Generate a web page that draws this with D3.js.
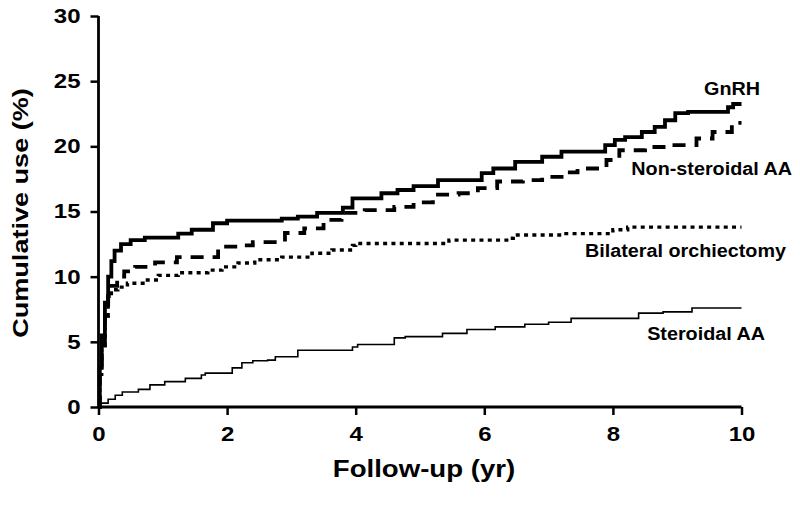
<!DOCTYPE html>
<html>
<head>
<meta charset="utf-8">
<script src="https://cdn.jsdelivr.net/npm/d3@7"></script>
<style>
  html, body { margin: 0; padding: 0; background: #fff; }
  svg { display: block; font-family: "Liberation Sans", Arial, sans-serif; }
</style>
</head>
<body>
<svg id="chart" width="800" height="510"></svg>
<script>
// ---- Data (time in years, cumulative use in %) ----
const xTicks = [0, 2, 4, 6, 8, 10];
const yTicks = [0, 5, 10, 15, 20, 25, 30];
const xLabel = "Follow-up (yr)";
const yLabel = "Cumulative use (%)";

const gnrh = [
  [0,0],[0.02,3],[0.05,5.5],[0.1,8],[0.15,10],[0.2,11.2],[0.25,12],[0.35,12.5],[0.5,12.8],[0.72,13.0],
  [1.24,13.3],[1.45,13.6],[1.78,14.1],[2.0,14.3],[2.85,14.45],[3.1,14.6],[3.4,14.9],[3.8,15.3],
  [3.95,16.0],[4.4,16.4],[4.65,16.65],[4.9,16.95],[5.28,17.4],[5.96,17.95],[6.14,18.3],[6.48,18.8],
  [6.9,19.2],[7.2,19.6],[7.88,20.1],[8.03,20.5],[8.19,20.7],[8.45,21.1],[8.65,21.5],[8.81,22.0],
  [8.97,22.55],[9.17,22.65],[9.79,23.0],[9.87,23.25],[10,23.25]
];
const nonSteroidalAA = [
  [0,0],[0.02,2.5],[0.05,4.5],[0.1,7],[0.15,8.5],[0.2,9.3],[0.29,10.0],[0.4,10.4],[0.57,10.75],
  [0.88,11.1],[1.22,11.5],[1.86,12.3],[2.17,12.4],[2.4,12.65],[2.9,13.35],[3.2,13.7],[3.5,14.35],
  [3.78,14.9],[4.14,15.1],[4.6,15.35],[4.9,15.7],[5.2,16.3],[5.6,16.4],[5.9,16.8],[6.2,17.3],
  [6.6,17.4],[6.9,17.65],[7.25,18.0],[7.45,18.3],[7.9,18.95],[8.1,19.7],[8.5,19.95],[8.85,20.1],
  [9.3,20.6],[9.55,21.1],[9.85,21.8],[10,21.8]
];
const bilateralOrchiectomy = [
  [0,0],[0.02,2.5],[0.05,4.5],[0.1,7],[0.15,8.5],[0.2,9.0],[0.3,9.2],[0.45,9.5],[0.72,9.75],
  [0.93,10.1],[1.24,10.3],[1.7,10.5],[1.92,10.75],[2.17,11.05],[2.43,11.3],[2.85,11.5],[3.32,11.8],
  [3.63,12.05],[3.95,12.4],[4.0,12.55],[5.45,12.8],[6.4,12.95],[6.45,13.2],[7.2,13.3],[8.0,13.6],
  [8.23,13.8],[10,13.8]
];
const steroidalAA = [
  [0,0.3],[0.15,0.6],[0.26,0.9],[0.37,1.15],[0.62,1.35],[0.8,1.7],[1.03,1.95],[1.35,2.2],[1.6,2.45],
  [1.66,2.6],[2.08,3.0],[2.23,3.4],[2.4,3.55],[2.63,3.6],[2.75,3.85],[3.1,4.35],[3.95,4.6],[4.03,4.8],
  [4.6,5.3],[4.77,5.4],[5.35,5.65],[5.73,5.95],[6.17,6.15],[6.63,6.35],[7.0,6.5],[7.35,6.8],
  [8.4,7.2],[8.78,7.3],[9.23,7.6],[10,7.6]
];

const seriesNames = ["GnRH", "Non-steroidal AA", "Bilateral orchiectomy", "Steroidal AA"];

// ---- Layout ----
const svg = d3.select("#chart");
const x = d3.scaleLinear().domain([0, 10]).range([98.5, 741.5]);
const y = d3.scaleLinear().domain([0, 30]).range([407, 16]);
const FONT = "'Liberation Sans', Arial, sans-serif";

// ---- Series ----
const line = d3.line().x(d => x(d[0])).y(d => y(d[1])).curve(d3.curveStepAfter);

const series = [
  {name: seriesNames[0], data: gnrh, width: 3.8, dash: null},
  {name: seriesNames[1], data: nonSteroidalAA, width: 3.8, dash: "13,9"},
  {name: seriesNames[2], data: bilateralOrchiectomy, width: 3.4, dash: "4,4.3"},
  {name: seriesNames[3], data: steroidalAA, width: 1.6, dash: null}
];

svg.append("g").selectAll("path").data(series).join("path")
  .attr("d", d => line(d.data))
  .attr("fill", "none")
  .attr("stroke", "#000")
  .attr("stroke-width", d => d.width)
  .attr("stroke-dasharray", d => d.dash)
  .attr("stroke-linejoin", "miter");

// ---- Axes ----
const xAxis = d3.axisBottom(x).tickValues(xTicks).tickSize(8).tickPadding(12).tickFormat(d3.format("d"));
const yAxis = d3.axisLeft(y).tickValues(yTicks).tickSize(8).tickPadding(7).tickFormat(d3.format("d"));

const gx = svg.append("g").attr("transform", `translate(0,${y(0)})`).call(xAxis);
const gy = svg.append("g").attr("transform", `translate(${x(0)},0)`).call(yAxis);

[gx, gy].forEach(g => {
  g.select(".domain").attr("stroke", "#000").attr("stroke-width", 2.8);
  g.selectAll(".tick line").attr("stroke", "#000").attr("stroke-width", 2.5);
  g.selectAll(".tick text")
    .attr("fill", "#000")
    .style("font-family", FONT)
    .style("font-size", "20px")
    .style("font-weight", "bold")
    .attr("transform", "scale(1.2,1)");
});
gx.select(".domain").attr("d", `M${x(0)},0H${x(10)}`);
gy.select(".domain").attr("d", `M0,${y(30)}V${y(0)}`);

// ---- Axis titles ----
svg.append("text")
  .attr("transform", "translate(424,477) scale(1.15,1)")
  .attr("text-anchor", "middle")
  .style("font-size", "24px").style("font-weight", "bold")
  .text(xLabel);

svg.append("text")
  .attr("transform", "translate(28,213) rotate(-90) scale(1.23,1)")
  .attr("text-anchor", "middle")
  .style("font-size", "22px").style("font-weight", "bold")
  .text(yLabel);

// ---- Series labels ----
const labelPos = [
  {t: seriesNames[0], x: 760, y: 95},
  {t: seriesNames[1], x: 792, y: 175},
  {t: seriesNames[2], x: 786, y: 257},
  {t: seriesNames[3], x: 765, y: 340}
];
svg.append("g").selectAll("text").data(labelPos).join("text")
  .attr("transform", d => `translate(${d.x},${d.y}) scale(1.13,1)`)
  .attr("text-anchor", "end")
  .style("font-size", "17.5px").style("font-weight", "bold")
  .text(d => d.t);
</script>
</body>
</html>
